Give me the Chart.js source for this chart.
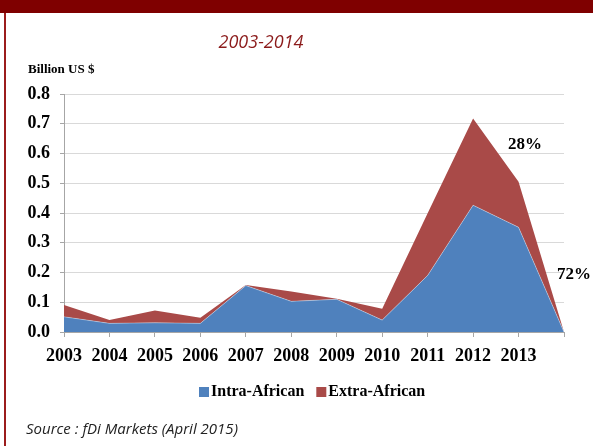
<!DOCTYPE html>
<html>
<head>
<meta charset="utf-8">
<script src="https://cdn.jsdelivr.net/npm/chart.js@4"></script>
<style>
  html, body { margin: 0; padding: 0; background: #fff; }
  #wrap { position: relative; width: 593px; height: 446px; overflow: hidden; }
  #topbar { position: absolute; left: 0; top: 0; width: 593px; height: 13px; background: #7f0000; }
  #leftbar { position: absolute; left: 4px; top: 13px; width: 2px; height: 433px; background: #9b1c1c; }
  canvas { position: absolute; left: 0; top: 0; }
</style>
</head>
<body>
<div id="wrap">
  <canvas id="chart" width="593" height="446"></canvas>
  <div id="topbar"></div>
  <div id="leftbar"></div>
</div>
<script>
// Données (milliards de $ US)
const years = ['2003', '2004', '2005', '2006', '2007', '2008', '2009', '2010', '2011', '2012', '2013', '2014'];
const yearLabels = ['2003', '2004', '2005', '2006', '2007', '2008', '2009', '2010', '2011', '2012', '2013', ''];
const intraAfrican = [0.051, 0.029, 0.031, 0.029, 0.156, 0.103, 0.110, 0.040, 0.190, 0.426, 0.352, 0];
const extraAfrican = [0.040, 0.011, 0.041, 0.019, 0.002, 0.033, 0.002, 0.038, 0.209, 0.292, 0.153, 0];
const yTicks = [0, 0.1, 0.2, 0.3, 0.4, 0.5, 0.6, 0.7, 0.8];

const serif = '"Liberation Serif", "Times New Roman", serif';
const sans = '"Open Sans", "Liberation Sans", sans-serif';

// Texte autour du graphique : titre, unité, légende, source, pourcentages
const textPlugin = {
  id: 'texts',
  afterDraw(chart) {
    const ctx = chart.ctx;
    ctx.save();
    ctx.textBaseline = 'middle';

    ctx.fillStyle = '#8b1a1a';
    ctx.font = 'italic 18px ' + sans;
    ctx.textAlign = 'center';
    ctx.fillText('2003-2014', 261, 43);

    ctx.fillStyle = '#000';
    ctx.font = 'bold 13px ' + serif;
    ctx.textAlign = 'left';
    ctx.fillText('Billion US $', 28, 70);

    ctx.font = 'bold 17px ' + serif;
    ctx.fillText('28%', 508, 145);
    ctx.fillText('72%', 557, 275);

    // légende
    ctx.font = 'bold 16px ' + serif;
    let x = 199;
    chart.data.datasets.forEach(ds => {
      ctx.fillStyle = ds.backgroundColor;
      ctx.fillRect(x, 387, 10, 10);
      ctx.fillStyle = '#000';
      ctx.fillText(ds.label, x + 12, 392);
      x += 12 + ctx.measureText(ds.label).width + 12;
    });

    ctx.fillStyle = '#222';
    ctx.font = 'italic 15px ' + sans;
    ctx.fillText('Source : fDi Markets (April 2015)', 26, 430);
    ctx.restore();
  }
};

new Chart(document.getElementById('chart'), {
  type: 'line',
  data: {
    labels: years,
    datasets: [
      {
        label: 'Intra-African',
        data: intraAfrican,
        backgroundColor: '#4f81bd',
        borderColor: 'rgba(255,255,255,0.35)',
        borderWidth: 1,
        fill: 'origin',
        pointRadius: 0,
        tension: 0
      },
      {
        label: 'Extra-African',
        data: extraAfrican,
        backgroundColor: '#a94a48',
        borderColor: '#a94a48',
        borderWidth: 0,
        fill: '-1',
        pointRadius: 0,
        tension: 0
      }
    ]
  },
  options: {
    responsive: false,
    animation: false,
    layout: { padding: { top: 94, right: 29, left: 0, bottom: 0 } },
    plugins: {
      legend: { display: false },
      tooltip: { enabled: false },
      filler: { drawTime: 'beforeDatasetsDraw' }
    },
    scales: {
      x: {
        offset: false,
        afterFit: s => { s.height = 114; },
        grid: { drawOnChartArea: false, tickLength: 5, color: '#a6a6a6' },
        border: { color: '#a6a6a6' },
        ticks: {
          color: '#000',
          font: { family: serif, size: 18, weight: 'bold' },
          padding: 9,
          maxRotation: 0,
          autoSkip: false,
          callback: (v, i) => yearLabels[i]
        }
      },
      y: {
        stacked: true,
        min: 0,
        max: 0.8,
        afterFit: s => { s.width = 64; },
        afterBuildTicks: s => { s.ticks = yTicks.map(v => ({ value: v })); },
        grid: { color: '#d9d9d9', tickColor: '#a6a6a6', tickLength: 4 },
        border: { color: '#a6a6a6' },
        ticks: {
          color: '#000',
          font: { family: serif, size: 18, weight: 'bold' },
          padding: 10,
          callback: v => v.toFixed(1)
        }
      }
    }
  },
  plugins: [textPlugin]
});
</script>
</body>
</html>
